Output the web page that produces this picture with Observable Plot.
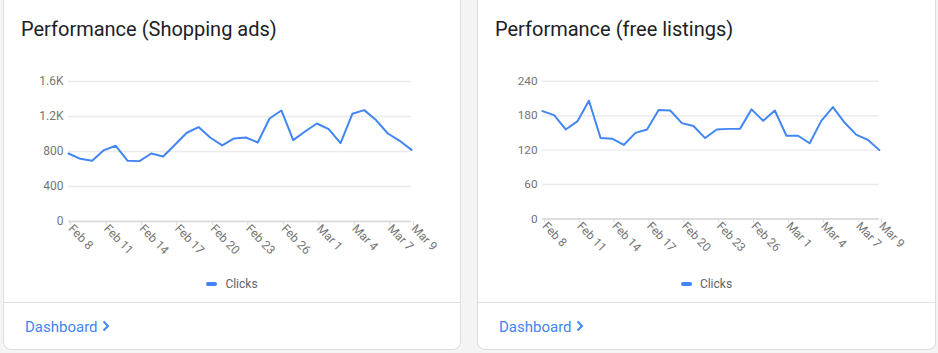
<!DOCTYPE html>
<html>
<head>
<meta charset="utf-8">
<script src="https://cdn.jsdelivr.net/npm/d3@7"></script>
<script src="https://cdn.jsdelivr.net/npm/@observablehq/plot@0.6"></script>
<style>
  html, body { margin: 0; padding: 0; }
  body { width: 938px; height: 353px; background: #f4f4f4; position: relative; overflow: hidden; font-family: Roboto, sans-serif; }
  .card { position: absolute; top: -12px; height: 362px; background: #fff; border: 1px solid #dadce0; border-radius: 8px; box-sizing: border-box; }
  .title { position: absolute; top: 28px; left: 17px; font-size: 20px; color: #202124; white-space: nowrap; }
  .sep { position: absolute; left: 0; right: 0; top: 313px; border-top: 1px solid #e0e0e0; }
  .legend { position: absolute; top: 288px; left: 0; right: 0; text-align: center; font-size: 12px; color: #5f6368; }
  .legend .sw { display: inline-block; width: 11px; height: 4px; border-radius: 2px; background: #4285f4; vertical-align: middle; margin-right: 8px; position: relative; top: -1px; }
  .dash { position: absolute; top: 329px; left: 21px; font-size: 15px; color: #4285f4; font-weight: 400; white-space: nowrap; }
  .dash svg { vertical-align: middle; margin-left: 4px; position: relative; top: -2px; }
  .chart { position: absolute; top: 60px; }
</style>
</head>
<body>
<div class="card" style="left:3px;width:458px;">
  <div class="title">Performance (Shopping ads)</div>
  <div class="legend"><span class="sw"></span>Clicks</div>
  <div class="sep"></div>
  <div class="dash">Dashboard<svg width="8" height="12" viewBox="0 0 8 12"><polyline points="1.5,1.5 6,6 1.5,10.5" fill="none" stroke="#4285f4" stroke-width="2"/></svg></div>
</div>
<div class="card" style="left:477px;width:459px;">
  <div class="title">Performance (free listings)</div>
  <div class="legend"><span class="sw"></span>Clicks</div>
  <div class="sep"></div>
  <div class="dash">Dashboard<svg width="8" height="12" viewBox="0 0 8 12"><polyline points="1.5,1.5 6,6 1.5,10.5" fill="none" stroke="#4285f4" stroke-width="2"/></svg></div>
</div>
<div id="c1" class="chart" style="left:0px;"></div>
<div id="c2" class="chart" style="left:475px;"></div>
<script>
// Dates: Feb 8 .. Mar 9 (daily)
const startDate = "2023-02-08";
const endDate = "2023-03-09";
const xTickLabels = ["Feb 8","Feb 11","Feb 14","Feb 17","Feb 20","Feb 23","Feb 26","Mar 1","Mar 4","Mar 7","Mar 9"];

const shoppingClicks = [777, 716, 694, 816, 865, 694, 690, 777, 743, 877, 1014, 1079, 957, 869, 949, 960, 903, 1177, 1269, 930, 1029, 1120, 1056, 896, 1231, 1273, 1159, 1006, 922, 819];
const freeClicks = [188, 181, 156, 170, 206, 141, 140, 129, 150, 156, 190, 189, 167, 162, 141, 156, 157, 157, 191, 171, 189, 145, 145, 132, 171, 195, 168, 147, 138, 120];

const shoppingYTicks = [0, 400, 800, 1200, 1600];
const freeYTicks = [0, 60, 120, 180, 240];

const parse = d3.utcParse("%Y-%m-%d");
const t0 = parse(startDate), t1 = parse(endDate);
const days = d3.utcDay.range(t0, d3.utcDay.offset(t1, 1));
const tickParse = d3.utcParse("%b %d %Y");
const xTicks = xTickLabels.map(s => tickParse(s + " 2023"));
const fmtDate = d3.utcFormat("%b %-d");
const kfmt = d => d >= 1000 ? (d / 1000).toFixed(1) + "K" : String(d);

function chart(values, yTicks, yFmt, mr) {
  const data = days.map((d, i) => ({date: d, v: values[i]}));
  return Plot.plot({
    width: 470, height: 200,
    marginLeft: 68, marginRight: mr, marginTop: 21, marginBottom: 39,
    x: {type: "utc", domain: [t0, t1]},
    y: {domain: [0, yTicks[yTicks.length - 1]]},
    style: {fontFamily: "Roboto, sans-serif", fontSize: "12px", color: "#757575", background: "transparent", overflow: "visible"},
    marks: [
      Plot.gridY(yTicks, {stroke: "#ebebeb", strokeOpacity: 1, strokeWidth: 1.5}),
      Plot.axisY(yTicks, {tickSize: 0, tickPadding: 5, tickFormat: yFmt, fill: "#757575", fontSize: 12, label: null}),
      Plot.ruleY([0], {stroke: "#d9d9d9", strokeWidth: 1.5}),
      Plot.axisX(xTicks, {tickSize: 4, stroke: "#d9d9d9", tickFormat: fmtDate, tickRotate: 46, textAnchor: "start", lineAnchor: "middle", tickPadding: 1, dx: 2, fill: "#757575", fontSize: 12, label: null}),
      Plot.line(data, {x: "date", y: "v", stroke: "#4285f4", strokeWidth: 2})
    ]
  });
}

document.getElementById("c1").append(chart(shoppingClicks, shoppingYTicks, kfmt, 59));
document.getElementById("c2").append(chart(freeClicks, freeYTicks, d => String(d), 60));
</script>
</body>
</html>
